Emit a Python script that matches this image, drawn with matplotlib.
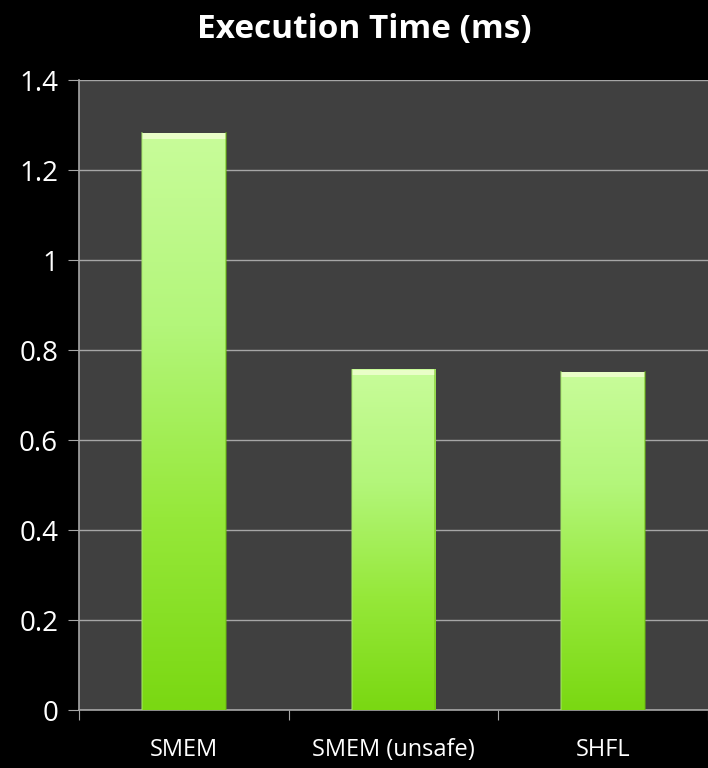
import numpy as np
import matplotlib.pyplot as plt
from matplotlib.colors import LinearSegmentedColormap

categories = ["SMEM", "SMEM (unsafe)", "SHFL"]
times = [1.282, 0.756, 0.751]
yticks = [0, 0.2, 0.4, 0.6, 0.8, 1, 1.2, 1.4]
ytick_labels = ["0", "0.2", "0.4", "0.6", "0.8", "1", "1.2", "1.4"]

plt.rcParams['font.family'] = ['Open Sans', 'DejaVu Sans']

fig = plt.figure(figsize=(7.08, 7.68), dpi=100, facecolor="black")
ax = fig.add_axes([0.1116, 0.0755, 0.8884, 0.8203])
ax.set_facecolor("#404040")

# green gradient: light at the top, saturated at the bottom
green = LinearSegmentedColormap.from_list(
    "grn", ["#7ad812", "#96e83a", "#b3f67a", "#c8fc9a"])
grad = np.linspace(0, 1, 256).reshape(-1, 1)

width = 0.4
for i, v in enumerate(times):
    x0 = i - width / 2
    ax.imshow(grad, cmap=green, origin="lower", aspect="auto",
              extent=[x0, x0 + width, 0, v], zorder=3, interpolation="bilinear")
    # bevel highlight along the top
    ax.fill_between([x0, x0 + width], v - 0.012, v, color="#f0ffd0",
                    alpha=0.85, zorder=4, linewidth=0)
    ax.plot([x0, x0], [0, v], color="#a8e86a", lw=1.2, zorder=4, alpha=0.6)
    ax.plot([x0 + width, x0 + width], [0, v], color="#6cbc10", lw=1.2,
            zorder=4, alpha=0.6)

ax.set_xlim(-0.5, 2.5)
ax.set_ylim(0, 1.4)

ax.set_yticks(yticks)
ax.set_yticklabels(ytick_labels)
ax.yaxis.grid(True, color="#a6a6a6", lw=1)
ax.set_axisbelow(True)

ax.set_xticks([-0.5, 0.5, 1.5, 2.5])
ax.set_xticklabels([])
ax.set_xticks([0, 1, 2], minor=True)
ax.set_xticklabels(categories, minor=True)
ax.tick_params(axis="x", which="minor", length=0, pad=20)
ax.tick_params(axis="x", which="major", length=7, color="#a6a6a6")
ax.tick_params(axis="y", length=8, color="#a6a6a6", pad=7)
ax.tick_params(axis="both", which="both", labelcolor="white", labelsize=17)
for lab in ax.get_yticklabels():
    lab.set_fontsize(20)

for side in ["top", "right"]:
    ax.spines[side].set_visible(False)
for side in ["left", "bottom"]:
    ax.spines[side].set_color("#a6a6a6")
    ax.spines[side].set_linewidth(1.2)

fig.text(0.515, 0.962, "Execution Time (ms)", color="white", fontsize=24,
         fontweight="bold", ha="center", va="center")

fig.savefig("out.png", dpi=100, facecolor="black")
